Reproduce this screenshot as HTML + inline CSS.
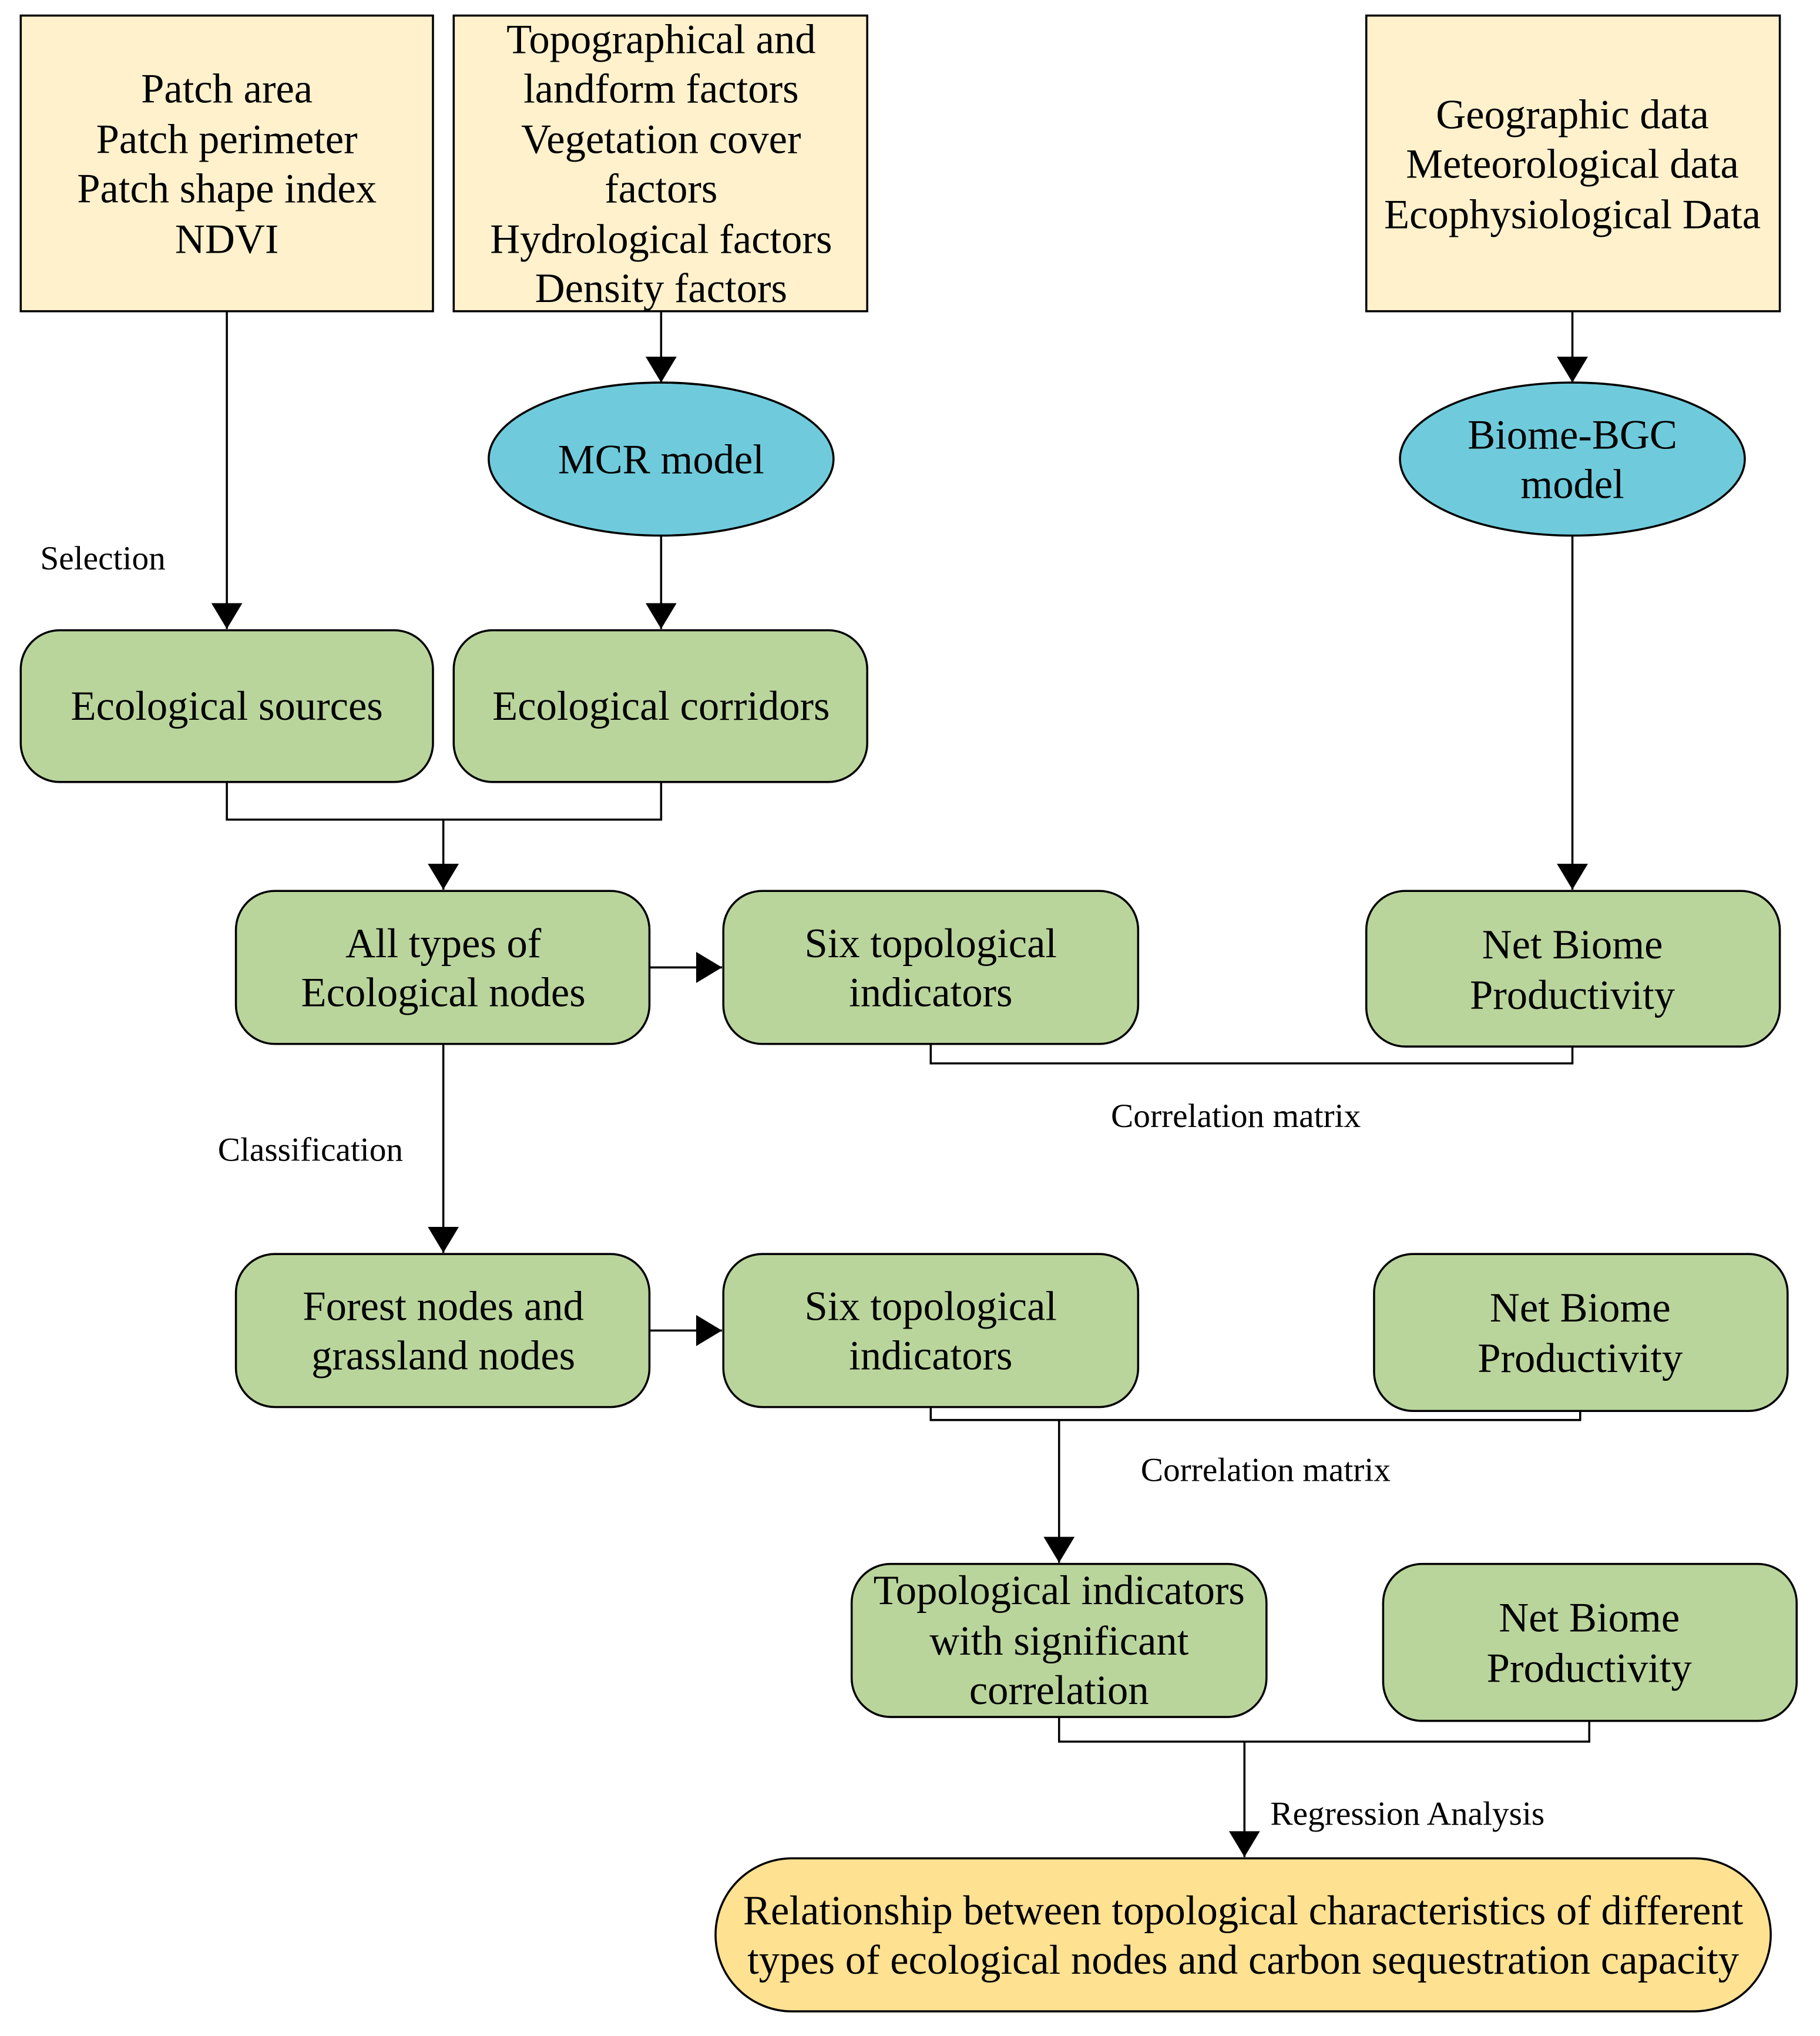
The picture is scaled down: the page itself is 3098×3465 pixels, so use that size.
<!DOCTYPE html>
<html><head><meta charset="utf-8"><style>
html,body{margin:0;padding:0;background:#fff;}
svg{display:block;}
text{font-family:"Liberation Serif",serif;fill:#000;}
.t{font-size:32px;text-anchor:middle;}
.l{font-size:26px;}
.b{stroke:#000;stroke-width:1.6;}
.c{fill:none;stroke:#000;stroke-width:1.6;}
</style></head><body>
<svg width="3098" height="3465" viewBox="0 0 1404 1570" preserveAspectRatio="none" xmlns="http://www.w3.org/2000/svg">
<defs>
<marker id="ah" viewBox="0 0 20 24" refX="20" refY="12" markerWidth="20" markerHeight="24" orient="auto" markerUnits="userSpaceOnUse"><path d="M0,0 L20,12 L0,24 z" fill="#000"/></marker></defs>

<rect x="16" y="12" width="318" height="228" fill="#FFF1CC" class="b"/>
<text class="t" x="175" y="79">Patch area</text>
<text class="t" x="175" y="118">Patch perimeter</text>
<text class="t" x="175" y="156">Patch shape index</text>
<text class="t" x="175" y="195">NDVI</text>

<rect x="350" y="12" width="319" height="228" fill="#FFF1CC" class="b"/>
<text class="t" x="510" y="41">Topographical and</text>
<text class="t" x="510" y="79">landform factors</text>
<text class="t" x="510" y="118">Vegetation cover</text>
<text class="t" x="510" y="156">factors</text>
<text class="t" x="510" y="195">Hydrological factors</text>
<text class="t" x="510" y="233">Density factors</text>

<rect x="1054" y="12" width="319" height="228" fill="#FFF1CC" class="b"/>
<text class="t" x="1213" y="99">Geographic data</text>
<text class="t" x="1213" y="137">Meteorological data</text>
<text class="t" x="1213" y="176">Ecophysiological Data</text>

<ellipse cx="510" cy="354" rx="133" ry="59" fill="#6FCBDC" class="b"/>
<text class="t" x="510" y="365">MCR model</text>
<ellipse cx="1213" cy="354" rx="133" ry="59" fill="#6FCBDC" class="b"/>
<text class="t" x="1213" y="346">Biome-BGC</text>
<text class="t" x="1213" y="384">model</text>

<line x1="175" y1="240" x2="175" y2="485" class="c" marker-end="url(#ah)"/>
<line x1="510" y1="240" x2="510" y2="295" class="c" marker-end="url(#ah)"/>
<line x1="510" y1="413" x2="510" y2="485" class="c" marker-end="url(#ah)"/>
<line x1="1213" y1="240" x2="1213" y2="295" class="c" marker-end="url(#ah)"/>
<line x1="1213" y1="413" x2="1213" y2="686" class="c" marker-end="url(#ah)"/>
<text class="l" x="31" y="439">Selection</text>

<rect x="16" y="486" width="318" height="117" rx="30" fill="#BAD59C" class="b"/>
<text class="t" x="175" y="555">Ecological sources</text>
<rect x="350" y="486" width="319" height="117" rx="30" fill="#BAD59C" class="b"/>
<text class="t" x="510" y="555">Ecological corridors</text>
<path d="M175,603 V632 H510 V603" class="c"/>
<line x1="342" y1="632" x2="342" y2="686" class="c" marker-end="url(#ah)"/>

<rect x="182" y="687" width="319" height="118" rx="30" fill="#BAD59C" class="b"/>
<text class="t" x="342" y="738">All types of</text>
<text class="t" x="342" y="776">Ecological nodes</text>
<line x1="501" y1="746" x2="557" y2="746" class="c" marker-end="url(#ah)"/>
<rect x="558" y="687" width="320" height="118" rx="30" fill="#BAD59C" class="b"/>
<text class="t" x="718" y="738">Six topological</text>
<text class="t" x="718" y="776">indicators</text>
<rect x="1054" y="687" width="319" height="120" rx="30" fill="#BAD59C" class="b"/>
<text class="t" x="1213" y="739">Net Biome</text>
<text class="t" x="1213" y="778">Productivity</text>
<path d="M718,805 V820 H1213 V807" class="c"/>
<text class="l" x="857" y="869">Correlation matrix</text>
<text class="l" x="168" y="895">Classification</text>
<line x1="342" y1="805" x2="342" y2="966" class="c" marker-end="url(#ah)"/>

<rect x="182" y="967" width="319" height="118" rx="30" fill="#BAD59C" class="b"/>
<text class="t" x="342" y="1018">Forest nodes and</text>
<text class="t" x="342" y="1056">grassland nodes</text>
<line x1="501" y1="1026" x2="557" y2="1026" class="c" marker-end="url(#ah)"/>
<rect x="558" y="967" width="320" height="118" rx="30" fill="#BAD59C" class="b"/>
<text class="t" x="718" y="1018">Six topological</text>
<text class="t" x="718" y="1056">indicators</text>
<rect x="1060" y="967" width="319" height="121" rx="30" fill="#BAD59C" class="b"/>
<text class="t" x="1219" y="1019">Net Biome</text>
<text class="t" x="1219" y="1058">Productivity</text>
<path d="M718,1085 V1095 H1219 V1088" class="c"/>
<line x1="817" y1="1095" x2="817" y2="1205" class="c" marker-end="url(#ah)"/>
<text class="l" x="880" y="1142">Correlation matrix</text>

<rect x="657" y="1206" width="320" height="118" rx="30" fill="#BAD59C" class="b"/>
<text class="t" x="817" y="1237">Topological indicators</text>
<text class="t" x="817" y="1276">with significant</text>
<text class="t" x="817" y="1314">correlation</text>
<rect x="1067" y="1206" width="319" height="121" rx="30" fill="#BAD59C" class="b"/>
<text class="t" x="1226" y="1258">Net Biome</text>
<text class="t" x="1226" y="1297">Productivity</text>
<path d="M817,1324 V1343 H1226 V1327" class="c"/>
<line x1="960" y1="1343" x2="960" y2="1432" class="c" marker-end="url(#ah)"/>
<text class="l" x="980" y="1407">Regression Analysis</text>

<rect x="552" y="1433" width="814" height="118" rx="59" fill="#FFE192" class="b"/>
<text class="t" x="959" y="1484">Relationship between topological characteristics of different</text>
<text class="t" x="959" y="1522">types of ecological nodes and carbon sequestration capacity</text>
</svg>
</body></html>
